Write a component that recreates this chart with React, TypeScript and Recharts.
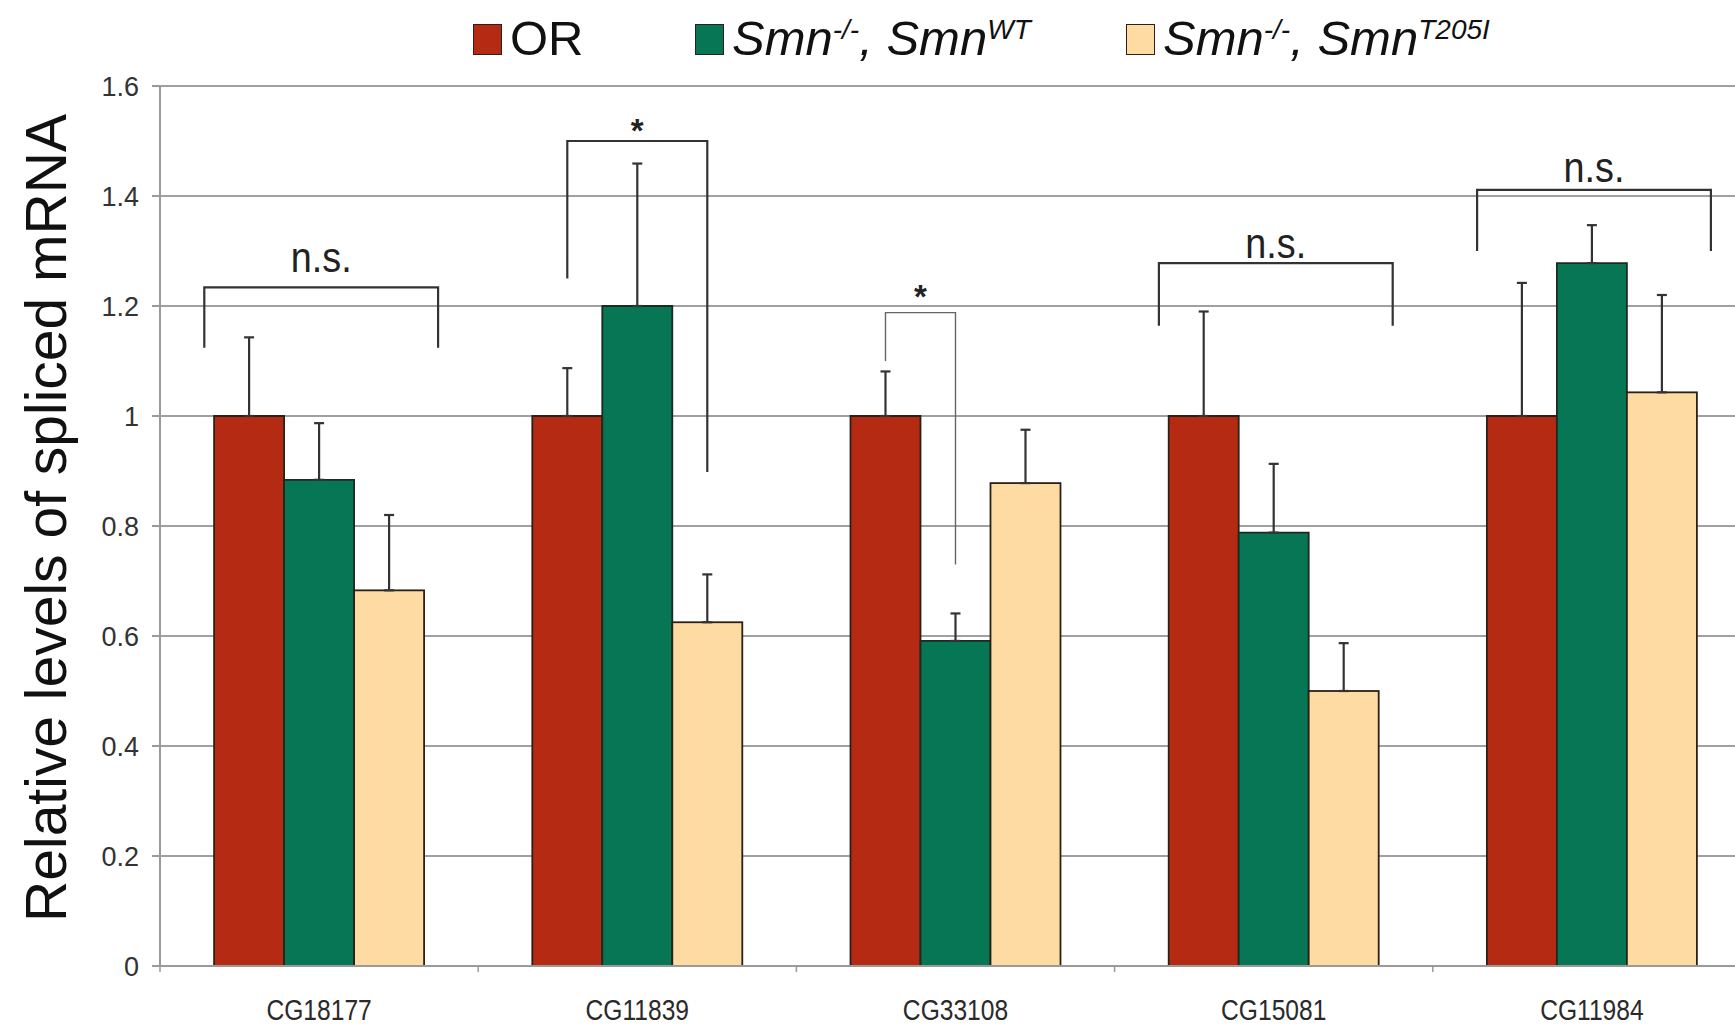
import React from 'react';
import { BarChart, Bar, XAxis, YAxis, CartesianGrid, ErrorBar } from 'recharts';

// ---- data ----
const categories = ['CG18177', 'CG11839', 'CG33108', 'CG15081', 'CG11984'];
const orValues = [1, 1, 1, 1, 1];
const orErrors = [0.143, 0.087, 0.081, 0.19, 0.242];
const wtValues = [0.884, 1.2, 0.591, 0.788, 1.278];
const wtErrors = [0.103, 0.259, 0.05, 0.125, 0.069];
const t205iValues = [0.683, 0.625, 0.878, 0.5, 1.043];
const t205iErrors = [0.137, 0.087, 0.097, 0.087, 0.177];
const yTicks = [0, 0.2, 0.4, 0.6, 0.8, 1, 1.2, 1.4, 1.6];
const yAxisTitle = 'Relative levels of spliced mRNA';

// significance brackets (values in data units)
const bracketLabels = ['n.s.', '*', '*', 'n.s.', 'n.s.'];
const bracketSpans = ['group', 'orToT205I', 'orToWT', 'group', 'group'];
const bracketTops = [1.234, 1.5, 1.188, 1.278, 1.411];
const bracketLeftEnds = [1.124, 1.25, 1.1, 1.164, 1.3];
const bracketRightEnds = [1.124, 0.898, 0.73, 1.164, 1.3];
const bracketLabelLevels = [1.262, 1.53, 1.228, 1.288, 1.425];
const bracketThin = [false, false, true, false, false];

// legend labels (parts, for italics / superscripts)
type Part = { t: string; i?: boolean; sup?: boolean };
const seriesLabels: Part[][] = [
  [{ t: 'OR' }],
  [{ t: 'Smn', i: true }, { t: '-/-', i: true, sup: true }, { t: ', ', i: true }, { t: 'Smn', i: true }, { t: 'WT', i: true, sup: true }],
  [{ t: 'Smn', i: true }, { t: '-/-', i: true, sup: true }, { t: ', ', i: true }, { t: 'Smn', i: true }, { t: 'T205I', i: true, sup: true }],
];

const COLORS = ['#B52A12', '#067654', '#FDDBA2'];
const FONT = 'Liberation Sans, Arial, Helvetica, sans-serif';

const data = categories.map((name, i) => ({
  name,
  or: orValues[i],
  orErr: [0, orErrors[i]],
  wt: wtValues[i],
  wtErr: [0, wtErrors[i]],
  t205i: t205iValues[i],
  t205iErr: [0, t205iErrors[i]],
}));

const T205IShape = (props: any) => {
  const { x, y, width, height, fill, index, payload } = props;
  const v = payload.t205i;
  const k = height / v;
  const base = y + height;
  const yOf = (val: number) => base - val * k;
  const orLeft = x - 2 * width;
  const orCenter = orLeft + width / 2;
  const wtCenter = x - width / 2;
  const tCenter = x + width / 2;
  const span = bracketSpans[index];
  let lx: number, rx: number;
  if (span === 'group') {
    lx = orLeft - width * 0.14;
    rx = x + width * 1.2;
  } else if (span === 'orToT205I') {
    lx = orCenter;
    rx = tCenter;
  } else {
    lx = orCenter;
    rx = wtCenter;
  }
  const thin = bracketThin[index];
  const label = bracketLabels[index];
  const cx = (lx + rx) / 2;
  const ly = yOf(bracketLabelLevels[index]);
  return (
    <g>
      <rect x={x} y={y} width={width} height={height} fill={fill} stroke="#2b2118" strokeWidth={1.8} />
      <path
        d={`M${lx},${yOf(bracketLeftEnds[index])} V${yOf(bracketTops[index])} H${rx} V${yOf(bracketRightEnds[index])}`}
        fill="none"
        stroke={thin ? '#666' : '#333'}
        strokeWidth={thin ? 1.4 : 2.2}
      />
      {label === '*' ? (
        <text x={cx} y={ly + 17} textAnchor="middle" fontSize={33} fontWeight="bold" fill="#222" fontFamily={FONT}>
          {label}
        </text>
      ) : (
        <text transform={`translate(${cx},${ly}) scale(0.9,1)`} textAnchor="middle" fontSize={42} fill="#222" fontFamily={FONT}>
          {label}
        </text>
      )}
    </g>
  );
};

const XTick = (props: any) => {
  const { x, y, payload, index } = props;
  const half = payload && payload.offset ? payload.offset : 0;
  return (
    <g>
      {half > 0 && <line x1={x - half} x2={x - half} y1={y - 8} y2={y - 2} stroke="#999" strokeWidth={1.5} />}
      {half > 0 && index === categories.length - 1 && (
        <line x1={x + half} x2={x + half} y1={y - 8} y2={y - 2} stroke="#999" strokeWidth={1.5} />
      )}
      <text transform={`translate(${x},${y + 46}) scale(0.82,1)`} textAnchor="middle" fontSize={30} fill="#2a2a2a" fontFamily={FONT}>
        {payload.value}
      </text>
    </g>
  );
};

const YTitle = (props: any) => {
  const vb = props.viewBox || { x: 0, y: 86, width: 160, height: 880 };
  const cy = vb.y + vb.height / 2 - 8;
  return (
    <text transform={`translate(66,${cy}) rotate(-90)`} textAnchor="middle" fontSize={57} fill="#111" fontFamily={FONT}>
      {yAxisTitle}
    </text>
  );
};

const legendLefts = [473, 695, 1126];

const Legend = () => (
  <>
    {seriesLabels.map((parts, si) => (
      <div
        key={si}
        style={{
          position: 'absolute',
          left: legendLefts[si],
          top: 14,
          display: 'flex',
          alignItems: 'flex-start',
          fontFamily: FONT,
          fontSize: 49,
          lineHeight: '49px',
          color: '#111',
          whiteSpace: 'nowrap',
        }}
      >
        <div
          style={{
            width: 27,
            height: 29,
            marginTop: 10,
            background: COLORS[si],
            border: '1.5px solid #2b2118',
            marginRight: 8,
          }}
        />
        <span>
          {parts.map((p, pi) =>
            p.sup ? (
              <span key={pi} style={{ fontStyle: p.i ? 'italic' : 'normal', fontSize: 28, verticalAlign: 16, lineHeight: '28px' }}>
                {p.t}
              </span>
            ) : (
              <span key={pi} style={{ fontStyle: p.i ? 'italic' : 'normal' }}>
                {p.t}
              </span>
            )
          )}
        </span>
      </div>
    ))}
  </>
);

export default function App() {
  return (
    <div style={{ position: 'absolute', left: 0, top: 0, width: 1735, height: 1029, overflow: 'hidden', background: '#fff' }}>
      <BarChart
        width={1760}
        height={1029}
        data={data}
        margin={{ top: 86, right: 9, left: 0, bottom: 0 }}
        barCategoryGap="17%"
        barGap={0}
      >
        <CartesianGrid vertical={false} stroke="#a0a0a0" strokeWidth={2} />
        <XAxis
          dataKey="name"
          height={63}
          axisLine={{ stroke: '#9a9a9a', strokeWidth: 2 }}
          tickLine={false}
          tickSize={6}
          tickMargin={2}
          tick={<XTick />}
          interval={0}
        />
        <YAxis
          width={160}
          domain={[0, 1.6]}
          ticks={yTicks}
          allowDataOverflow
          axisLine={{ stroke: '#9a9a9a', strokeWidth: 2 }}
          tickLine={{ stroke: '#9a9a9a', strokeWidth: 2 }}
          tickSize={8}
          tickMargin={13}
          tick={{ fontSize: 27, fill: '#333', fontFamily: FONT }}
          label={{ content: <YTitle /> }}
        />
        <Bar dataKey="or" fill={COLORS[0]} stroke="#2b2118" strokeWidth={1.8} isAnimationActive={false}>
          <ErrorBar dataKey="orErr" direction="y" width={5} stroke="#333" strokeWidth={2.2} />
        </Bar>
        <Bar dataKey="wt" fill={COLORS[1]} stroke="#1e2a20" strokeWidth={1.8} isAnimationActive={false}>
          <ErrorBar dataKey="wtErr" direction="y" width={5} stroke="#333" strokeWidth={2.2} />
        </Bar>
        <Bar dataKey="t205i" fill={COLORS[2]} shape={<T205IShape />} isAnimationActive={false}>
          <ErrorBar dataKey="t205iErr" direction="y" width={5} stroke="#333" strokeWidth={2.2} />
        </Bar>
      </BarChart>
      <Legend />
    </div>
  );
}
